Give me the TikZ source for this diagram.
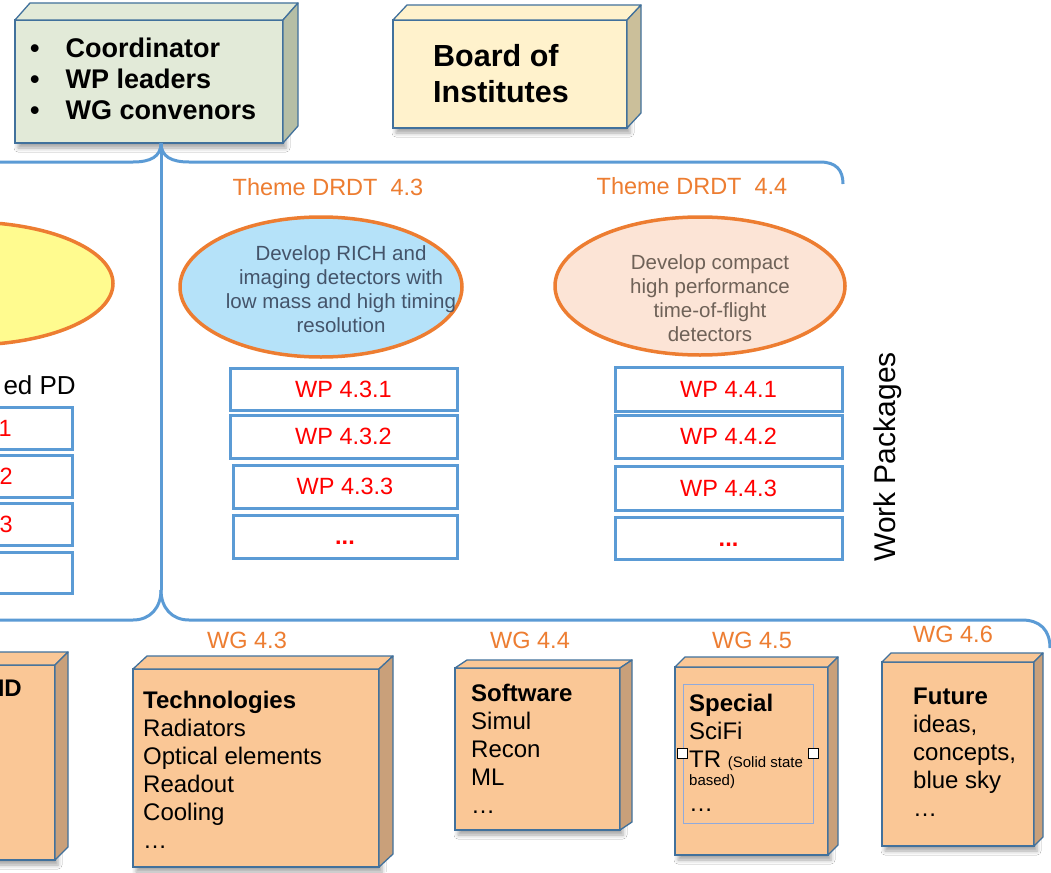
\documentclass[tikz,border=0pt]{standalone}
\usepackage{fontspec}
\setmainfont{Liberation Sans}
\usetikzlibrary{shapes.geometric,shadows.blur}

\definecolor{linkblue}{HTML}{5B9BD5}
\definecolor{edgeblue}{HTML}{41719C}
\definecolor{accent}{HTML}{ED7D31}
\definecolor{sage}{HTML}{E2EAD8}
\definecolor{sageside}{HTML}{B5BEA5}
\definecolor{cream}{HTML}{FFF2CC}
\definecolor{creamside}{HTML}{CBBF9A}
\definecolor{peach}{HTML}{FAC796}
\definecolor{peachside}{HTML}{C9A07A}
\definecolor{skyfill}{HTML}{B5E2F9}
\definecolor{blush}{HTML}{FCE4D6}
\definecolor{lemon}{HTML}{FFFB8F}
\definecolor{slate}{HTML}{44546A}
\definecolor{taupe}{HTML}{6F6258}
\definecolor{lavender}{HTML}{8FAADC}
\definecolor{wpred}{HTML}{FF0000}

\newcommand\setfs[2]{\fontsize{#1}{#2}\selectfont}

% top and right faces of a 3D block whose front face is node #1
\newcommand\boxfaces[5]{%
  \draw[faceedge, fill=#4] (#1.north west) -- ++(#2,-#3)
     -- ([shift={(#2,-#3)}]#1.north east) -- (#1.north east) -- cycle;
  \draw[faceedge, fill=#5] (#1.north east) -- ([shift={(#2,-#3)}]#1.north east)
     -- ([shift={(#2,-#3)}]#1.south east) -- (#1.south east) -- cycle;
}

\begin{document}
\begin{tikzpicture}[x=1pt,y=-1pt,
  faceedge/.style={draw=edgeblue, line width=1.3pt, line join=round},
  block/.style={draw=edgeblue, line width=1.3pt, rectangle, inner sep=0pt, outer sep=0pt,
    blur shadow={shadow xshift=3pt, shadow yshift=-5pt, shadow blur radius=4pt, shadow opacity=35}},
  link/.style={draw=linkblue, line width=3pt},
  wpbox/.style={draw=linkblue, line width=3pt, rectangle, fill=white, inner sep=0pt,
    minimum width=227pt, minimum height=43pt, text=wpred, font=\setfs{23.5}{27},
    text height=16.5pt, text depth=0pt},
  goal/.style={ellipse, draw=accent, line width=3.5pt, inner sep=0pt},
  goaltext/.style={align=center, font=\setfs{20.5}{24}, inner sep=0pt},
  theme/.style={text=accent, font=\setfs{23.5}{27}, inner sep=0pt},
  wglist/.style={anchor=north west, align=left, inner sep=0pt, font=\setfs{24}{28}},
]
\clip (0,0) rectangle (1051,872);
\fill[white] (0,0) rectangle (1051,872);

% ---- management blocks
\node[block, fill=sage, minimum width=268pt, minimum height=123pt] (coord) at (149,81.5) {};
\boxfaces{coord}{15}{17}{sage}{sageside}
\node[anchor=west, align=left, inner sep=0pt, font=\bfseries\setfs{27}{31}] (coordtext) at (30,79)
  {\textbullet\hspace{26pt}Coordinator\\ \textbullet\hspace{26pt}WP leaders\\ \textbullet\hspace{26pt}WG convenors};

\node[block, fill=cream, minimum width=234pt, minimum height=108pt] (board) at (510,74) {};
\boxfaces{board}{14}{15}{cream}{creamside}
\node[anchor=west, align=left, inner sep=0pt, font=\bfseries\setfs{30.5}{36}] (boardtext) at (433,74)
  {Board of\\Institutes};

% ---- braces from the coordination block
\coordinate (hub) at (161,143);
\coordinate (foot) at (161,590);
\draw[link] (hub) -- (foot);
\draw[link] (hub) .. controls (161,157) and (150,162) .. (133,162) -- (-5,162);
\draw[link] (hub) .. controls (161,157) and (172,162) .. (189,162) -- (820,162)
  .. controls (836,162) and (843,170) .. (843,184);
\draw[link] (foot) .. controls (161,608) and (150,620) .. (133,620) -- (-5,620);
\draw[link] (foot) .. controls (161,608) and (172,620) .. (189,620) -- (1022,620)
  .. controls (1040,620) and (1050,630) .. (1050,648);

% ---- themes
\node[theme] (th3) at (328,187) {Theme DRDT\ \ 4.3};
\node[theme] (th4) at (692,186) {Theme DRDT\ \ 4.4};

\node[goal, fill=lemon, minimum width=290pt, minimum height=123pt] (goal2) at (-32,283.5) {};
\node[goal, fill=skyfill, minimum width=282pt, minimum height=140pt] (goal3) at (321,287) {};
\node[goaltext, text=slate] (goal3text) at (341,289.5)
  {Develop RICH and\\imaging detectors with\\low mass and high timing\\resolution};
\node[goal, fill=blush, minimum width=290pt, minimum height=138pt] (goal4) at (700,286) {};
\node[goaltext, text=taupe] (goal4text) at (710,298)
  {Develop compact\\high performance\\time-of-flight\\detectors};

% ---- work packages
\node[anchor=east, inner sep=0pt, font=\setfs{26}{30}] (pdlabel) at (76,385) {ed PD};
\node[wpbox, minimum width=222pt, minimum height=42pt] (wp21) at (-39,428) {};
\node[wpbox, minimum width=222pt, minimum height=42pt] (wp22) at (-39,476) {};
\node[wpbox, minimum width=222pt, minimum height=42pt] (wp23) at (-39,524) {};
\node[wpbox, minimum width=222pt, minimum height=41pt] (wp24) at (-39,572.5) {};
\node[anchor=east, inner sep=0pt, text=wpred, font=\setfs{23.5}{27}] (d1) at (12,428) {1};
\node[anchor=east, inner sep=0pt, text=wpred, font=\setfs{23.5}{27}] (d2) at (13,476) {2};
\node[anchor=east, inner sep=0pt, text=wpred, font=\setfs{23.5}{27}] (d3) at (13,524) {3};

\node[wpbox, minimum height=42pt] (wp31) at (343.5,389) {WP 4.3.1};
\node[wpbox] (wp32) at (343.5,436.5) {WP 4.3.2};
\node[wpbox, minimum width=224pt] (wp33) at (345,486.5) {WP 4.3.3};
\node[wpbox, minimum width=224pt] (wp34) at (345,536.5) {\textbf{...}};

\node[wpbox, minimum height=44pt] (wp41) at (728.5,389) {WP 4.4.1};
\node[wpbox] (wp42) at (728.5,436.5) {WP 4.4.2};
\node[wpbox, minimum height=44pt] (wp43) at (728.5,488) {WP 4.4.3};
\node[wpbox, minimum height=42pt] (wp44) at (728.5,538) {\textbf{...}};

\node[rotate=90, inner sep=0pt, font=\setfs{30}{34}] (wplabel) at (888,457) {Work Packages};

% ---- working groups
\node[block, fill=peach, minimum width=155pt, minimum height=195pt] (wg2) at (-22.5,762.5) {};
\boxfaces{wg2}{13}{13}{peach}{peachside}
\node[anchor=east, inner sep=0pt, font=\bfseries\setfs{24}{28}] (wg2text) at (22,688) {ID};

\node[theme] (wg3lab) at (247,640) {WG 4.3};
\node[block, fill=peach, minimum width=246pt, minimum height=198pt] (wg3) at (256,768) {};
\boxfaces{wg3}{14}{13}{peach}{peachside}
\node[wglist] (wg3text) at (143,691)
  {\textbf{Technologies}\\Radiators\\Optical elements\\Readout\\Cooling\\…};

\node[theme] (wg4lab) at (530,640) {WG 4.4};
\node[block, fill=peach, minimum width=165pt, minimum height=162pt] (wg4) at (537.5,749) {};
\boxfaces{wg4}{12}{8}{peach}{peachside}
\node[wglist] (wg4text) at (471,684)
  {\textbf{Software}\\Simul\\Recon\\ML\\…};

\node[theme] (wg5lab) at (752,640) {WG 4.5};
\node[block, fill=peach, minimum width=153pt, minimum height=188pt] (wg5) at (751.5,761) {};
\boxfaces{wg5}{10}{10}{peach}{peachside}
\node[draw=lavender, line width=1pt, rectangle, inner sep=0pt, minimum width=130pt,
  minimum height=139pt] (wg5frame) at (748,753.5) {};
\node[wglist] (wg5text) at (689,694)
  {\textbf{Special}\\SciFi\\TR {\setfs{15}{18}(Solid state}\\[-10pt]{\setfs{15}{18}based)}\\[-2pt]…};
\node[draw=black, fill=white, line width=0.8pt, inner sep=0pt, minimum size=10pt] (hl) at (wg5frame.west) {};
\node[draw=black, fill=white, line width=0.8pt, inner sep=0pt, minimum size=10pt] (hr) at (wg5frame.east) {};

\node[theme] (wg6lab) at (953,634) {WG 4.6};
\node[block, fill=peach, minimum width=152pt, minimum height=184pt] (wg6) at (958,754) {};
\boxfaces{wg6}{9}{9}{peach}{peachside}
\node[wglist] (wg6text) at (913,688)
  {\textbf{Future}\\ideas,\\concepts,\\blue sky\\…};
\end{tikzpicture}
\end{document}
